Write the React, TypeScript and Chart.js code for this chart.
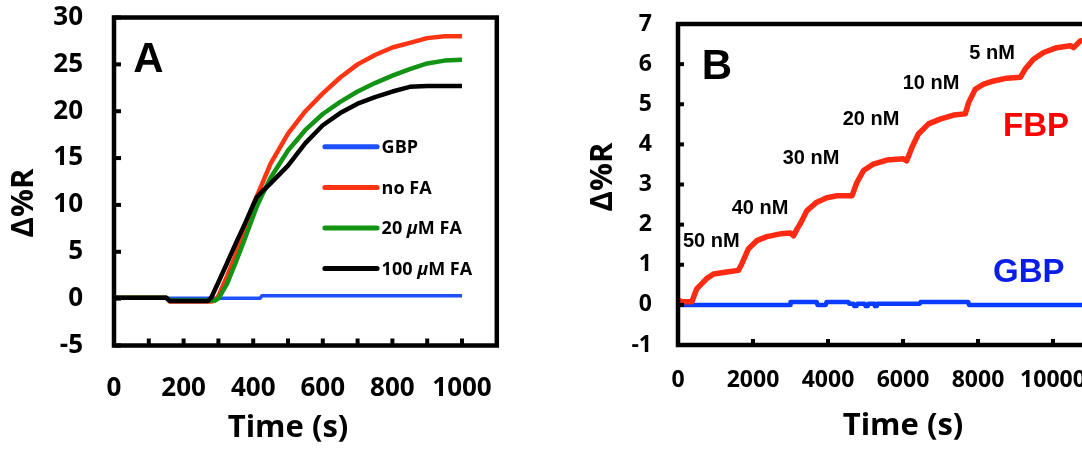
import React, { useEffect, useRef } from 'react';
import { Chart, registerables } from 'chart.js';

Chart.register(...registerables);

// ---------------- Panel A data ----------------
const A_TIME = [0, 150, 160, 270, 280, 290, 300, 325, 350, 375, 400, 410, 425, 450, 500, 550, 600, 650, 700, 750, 800, 850, 900, 950, 1000];
const A_NO_FA = [0.1, 0.1, -0.3, -0.3, -0.3, -0.2, 0.3, 2.4, 4.7, 7.4, 10.0, 10.9, 12.2, 14.4, 17.6, 20.0, 21.9, 23.6, 25.0, 26.0, 26.8, 27.3, 27.8, 28.0, 28.0];
const A_FA_20 = [0.1, 0.1, -0.2, -0.2, -0.2, -0.2, 0.0, 1.6, 3.9, 6.3, 8.8, 9.8, 11.0, 12.9, 15.8, 18.0, 19.7, 21.0, 22.1, 23.0, 23.8, 24.5, 25.1, 25.4, 25.5];
const A_FA_100 = [0.1, 0.1, -0.25, -0.25, 0.15, 0.95, 1.75, 3.8, 5.9, 7.9, 10.0, 10.8, 11.4, 12.3, 14.2, 16.6, 18.5, 19.8, 20.8, 21.5, 22.1, 22.6, 22.7, 22.7, 22.7];
const A_GBP_TIME = [0, 420, 425, 1000];
const A_GBP = [0.05, 0.05, 0.3, 0.3];
const A_LABELS = ['GBP', 'no FA', '20 \u03bcM FA', '100 \u03bcM FA'];

// ---------------- Panel B data ----------------
const B_FBP_TIME = [0, 100, 370, 500, 770, 950, 1300, 1610, 1700, 1880, 2100, 2370, 2730, 3000, 3080, 3180, 3260, 3440, 3700, 3970, 4240, 4640, 4770, 4950, 5210, 5570, 6010, 6100, 6240, 6410, 6680, 6990, 7350, 7660, 7750, 7930, 8150, 8420, 8770, 9130, 9260, 9480, 9750, 10100, 10460, 10550, 10730, 10850];
const B_FBP = [0.12, 0.08, 0.08, 0.4, 0.66, 0.77, 0.82, 0.86, 1.02, 1.4, 1.6, 1.7, 1.77, 1.79, 1.72, 1.9, 2.02, 2.35, 2.56, 2.67, 2.72, 2.72, 3.05, 3.35, 3.51, 3.61, 3.64, 3.59, 3.93, 4.26, 4.51, 4.63, 4.73, 4.76, 5.04, 5.38, 5.5, 5.58, 5.65, 5.67, 5.88, 6.12, 6.29, 6.41, 6.46, 6.41, 6.58, 6.6];
const B_GBP_TIME = [0, 2990, 3000, 3700, 3720, 3940, 3960, 4540, 4560, 4680, 4700, 4760, 4780, 4980, 5000, 5060, 5080, 5230, 5250, 5300, 5320, 6450, 6470, 7740, 7760, 10850];
const B_GBP = [0, 0, 0.07, 0.07, 0, 0, 0.07, 0.07, 0.03, 0.03, -0.03, -0.03, 0.03, 0.03, -0.03, -0.03, 0.03, 0.03, -0.03, -0.03, 0.03, 0.03, 0.07, 0.07, 0, 0];
const B_LABELS = ['FBP', 'GBP'];
const B_DOSE_LABELS = ['50 nM', '40 nM', '30 nM', '20 nM', '10 nM', '5 nM'];

// ---------------- styles / layout ----------------
const CAL = "'Open Sans', Lato, 'Noto Sans', sans-serif";
const ARIAL = "'Liberation Sans', Arial, sans-serif";
const A_COLORS = ['#1f50ff', '#ff3412', '#139313', '#000000'];
const B_COLORS = ['#ff2a12', '#0a3cff'];

// annotation anchors (data coordinates)
const A_LETTER_POS = { x: 55, y: 24.2 };
const A_LEGEND_POS = { x0: 606, x1: 756, textX: 769, yTop: 16.2, yStep: 4.33 };
const B_LETTER_POS = { x: 632, y: 5.64 };
const B_DOSE_POS = [
  { x: 133, y: 1.44 },
  { x: 1432, y: 2.27 },
  { x: 2792, y: 3.5 },
  { x: 4392, y: 4.49 },
  { x: 5992, y: 5.37 },
  { x: 7768, y: 6.14 },
];
const B_SERIES_POS = [
  { x: 8667, y: 4.2 },
  { x: 8400, y: 0.56 },
];

const pts = (xs: number[], ys: number[]) => xs.map((x, i) => ({ x, y: ys[i] }));

function framePlugin(frameMax: number, tickLen: number) {
  return {
    id: 'frameTicks',
    afterDatasetsDraw(chart: any) {
      const { ctx, chartArea } = chart;
      const xs = chart.scales.x;
      const ys = chart.scales.y;
      const right = xs.getPixelForValue(frameMax);
      ctx.save();
      ctx.strokeStyle = '#000';
      ctx.lineCap = 'butt';
      ctx.lineWidth = 4;
      ys.ticks.forEach((t: any) => {
        const py = ys.getPixelForValue(t.value);
        ctx.beginPath();
        ctx.moveTo(chartArea.left, py);
        ctx.lineTo(chartArea.left + tickLen, py);
        ctx.stroke();
      });
      xs.ticks.forEach((t: any) => {
        const px = xs.getPixelForValue(t.value);
        ctx.beginPath();
        ctx.moveTo(px, chartArea.bottom);
        ctx.lineTo(px, chartArea.bottom - tickLen);
        ctx.stroke();
      });
      ctx.lineWidth = 4.5;
      ctx.lineJoin = 'miter';
      ctx.strokeRect(chartArea.left, chartArea.top, right - chartArea.left, chartArea.bottom - chartArea.top);
      ctx.restore();
    },
  };
}

function yTitlePlugin(text: string, cx: number, cy: number, size: number) {
  return {
    id: 'yTitle',
    afterDraw(chart: any) {
      const { ctx } = chart;
      ctx.save();
      ctx.translate(cx, cy);
      ctx.rotate(-Math.PI / 2);
      ctx.font = `bold ${size}px ${CAL}`;
      ctx.fillStyle = '#000';
      ctx.textAlign = 'center';
      ctx.textBaseline = 'middle';
      ctx.fillText(text, 0, 0);
      ctx.restore();
    },
  };
}

function drawRuns(ctx: CanvasRenderingContext2D, label: string, x: number, y: number, size: number) {
  const parts = label.split('\u03bc');
  let cx = x;
  parts.forEach((p, i) => {
    if (i > 0) {
      ctx.font = `italic bold ${size}px ${CAL}`;
      ctx.fillText('\u03bc', cx, y);
      cx += ctx.measureText('\u03bc').width;
    }
    ctx.font = `bold ${size}px ${CAL}`;
    ctx.fillText(p, cx, y);
    cx += ctx.measureText(p).width;
  });
}

const annotationsA = {
  id: 'annotA',
  afterDraw(chart: any) {
    const { ctx } = chart;
    const xs = chart.scales.x;
    const ys = chart.scales.y;
    ctx.save();
    ctx.fillStyle = '#000';
    ctx.textBaseline = 'alphabetic';
    ctx.textAlign = 'left';
    ctx.font = `bold 42px ${ARIAL}`;
    ctx.fillText('A', xs.getPixelForValue(A_LETTER_POS.x), ys.getPixelForValue(A_LETTER_POS.y));
    chart.data.datasets.forEach((ds: any, i: number) => {
      const py = ys.getPixelForValue(A_LEGEND_POS.yTop - i * A_LEGEND_POS.yStep);
      ctx.strokeStyle = ds.borderColor;
      ctx.lineWidth = 5;
      ctx.lineCap = 'round';
      ctx.beginPath();
      ctx.moveTo(xs.getPixelForValue(A_LEGEND_POS.x0), py);
      ctx.lineTo(xs.getPixelForValue(A_LEGEND_POS.x1), py);
      ctx.stroke();
      ctx.fillStyle = '#000';
      ctx.textBaseline = 'middle';
      drawRuns(ctx, ds.label, xs.getPixelForValue(A_LEGEND_POS.textX), py + 1, 18);
    });
    ctx.restore();
  },
};

const annotationsB = {
  id: 'annotB',
  afterDraw(chart: any) {
    const { ctx } = chart;
    const xs = chart.scales.x;
    const ys = chart.scales.y;
    ctx.save();
    ctx.textBaseline = 'alphabetic';
    ctx.textAlign = 'left';
    ctx.fillStyle = '#000';
    ctx.font = `bold 42px ${ARIAL}`;
    ctx.fillText('B', xs.getPixelForValue(B_LETTER_POS.x), ys.getPixelForValue(B_LETTER_POS.y));
    ctx.font = `bold 20px ${ARIAL}`;
    B_DOSE_LABELS.forEach((t, i) => {
      ctx.fillText(t, xs.getPixelForValue(B_DOSE_POS[i].x), ys.getPixelForValue(B_DOSE_POS[i].y));
    });
    ctx.font = `bold 33px ${ARIAL}`;
    B_LABELS.forEach((t, i) => {
      ctx.fillStyle = i === 0 ? '#ff0000' : '#0a1ee8';
      ctx.fillText(t, xs.getPixelForValue(B_SERIES_POS[i].x), ys.getPixelForValue(B_SERIES_POS[i].y));
    });
    ctx.restore();
  },
};

const fixX = (h: number) => (s: any) => {
  s.height = h;
  s.paddingLeft = 0;
  s.paddingRight = 0;
};
const fixY = (w: number) => (s: any) => {
  s.width = w;
  s.paddingTop = 0;
  s.paddingBottom = 0;
};

function makeA(canvas: HTMLCanvasElement) {
  const series = [pts(A_GBP_TIME, A_GBP), pts(A_TIME, A_NO_FA), pts(A_TIME, A_FA_20), pts(A_TIME, A_FA_100)];
  return new Chart(canvas, {
    type: 'line',
    data: {
      datasets: series.map((d, i) => ({
        label: A_LABELS[i],
        data: d,
        borderColor: A_COLORS[i],
        backgroundColor: A_COLORS[i],
        borderWidth: i === 0 ? 3.5 : 4.5,
        order: 4 - i,
      })),
    },
    options: {
      animation: false,
      responsive: false,
      elements: {
        point: { radius: 0 },
        line: { tension: 0, borderCapStyle: 'round', borderJoinStyle: 'round' },
      },
      layout: { padding: { left: 0, top: 17.5, right: 78, bottom: 0 } },
      plugins: { legend: { display: false }, tooltip: { enabled: false } },
      scales: {
        x: {
          type: 'linear',
          min: 0,
          max: 1000,
          grid: { display: false, drawTicks: false },
          border: { display: false },
          ticks: {
            stepSize: 100,
            autoSkip: false,
            maxRotation: 0,
            minRotation: 0,
            padding: 27,
            color: '#000',
            font: { family: CAL, size: 26, weight: 'bold' },
            callback: (v: any) => (Number(v) % 200 === 0 ? String(v) : ''),
          },
          title: {
            display: true,
            text: 'Time (s)',
            color: '#000',
            font: { family: CAL, size: 31, weight: 'bold' },
            padding: { top: 0, bottom: 3 },
          },
          afterFit: fixX(104.5),
        },
        y: {
          type: 'linear',
          min: -5,
          max: 30,
          grid: { display: false, drawTicks: false },
          border: { display: false },
          ticks: {
            stepSize: 5,
            padding: 31,
            color: '#000',
            font: { family: CAL, size: 26, weight: 'bold' },
            callback: (v: any) => String(v),
          },
          afterFit: fixY(114),
        },
      },
    } as any,
    plugins: [framePlugin(1100, 7), annotationsA, yTitlePlugin('\u0394%R', 24, 203, 31)],
  });
}

function makeB(canvas: HTMLCanvasElement) {
  const series = [pts(B_FBP_TIME, B_FBP), pts(B_GBP_TIME, B_GBP)];
  return new Chart(canvas, {
    type: 'line',
    data: {
      datasets: series.map((d, i) => ({
        label: B_LABELS[i],
        data: d,
        borderColor: B_COLORS[i],
        backgroundColor: B_COLORS[i],
        borderWidth: i === 0 ? 5.5 : 4.5,
        order: i === 0 ? 1 : 2,
      })),
    },
    options: {
      animation: false,
      responsive: false,
      elements: {
        point: { radius: 0 },
        line: { tension: 0, borderCapStyle: 'round', borderJoinStyle: 'round' },
      },
      layout: { padding: { left: 0, top: 24, right: 42, bottom: 0 } },
      plugins: { legend: { display: false }, tooltip: { enabled: false } },
      scales: {
        x: {
          type: 'linear',
          min: 0,
          max: 12000,
          grid: { display: false, drawTicks: false },
          border: { display: false },
          ticks: {
            stepSize: 2000,
            autoSkip: false,
            maxRotation: 0,
            minRotation: 0,
            padding: 22,
            color: '#000',
            font: { family: CAL, size: 23, weight: 'bold' },
            callback: (v: any) => String(v),
          },
          title: {
            display: true,
            text: 'Time (s)',
            color: '#000',
            font: { family: CAL, size: 31, weight: 'bold' },
            padding: { top: 0, bottom: 5 },
          },
          afterFit: fixX(105),
        },
        y: {
          type: 'linear',
          min: -1,
          max: 7,
          grid: { display: false, drawTicks: false },
          border: { display: false },
          ticks: {
            stepSize: 1,
            padding: 26,
            color: '#000',
            font: { family: CAL, size: 23, weight: 'bold' },
            callback: (v: any) => String(v),
          },
          afterFit: fixY(118),
        },
      },
    } as any,
    plugins: [framePlugin(12000, 6), annotationsB, yTitlePlugin('\u0394%R', 43, 177, 31)],
  });
}

export default function App() {
  const refA = useRef<HTMLCanvasElement>(null);
  const refB = useRef<HTMLCanvasElement>(null);
  useEffect(() => {
    const a = refA.current ? makeA(refA.current) : null;
    const b = refB.current ? makeB(refB.current) : null;
    return () => {
      a?.destroy();
      b?.destroy();
    };
  }, []);
  return (
    <div
      style={{
        position: 'fixed',
        left: 0,
        top: 0,
        width: 1082,
        height: 450,
        overflow: 'hidden',
        background: '#fff',
      }}
    >
      <canvas ref={refA} width={540} height={450} style={{ position: 'absolute', left: 0, top: 0 }} />
      <canvas ref={refB} width={610} height={450} style={{ position: 'absolute', left: 560, top: 0 }} />
    </div>
  );
}
